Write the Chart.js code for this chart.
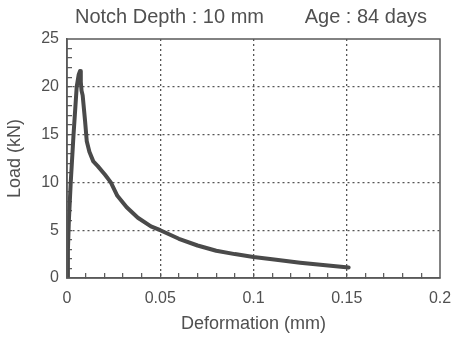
<!DOCTYPE html>
<html>
<head>
<meta charset="utf-8">
<script src="https://cdn.jsdelivr.net/npm/chart.js@4.4.1/dist/chart.umd.min.js"></script>
<style>
  html, body { margin: 0; padding: 0; background: #fff; }
  #wrap { width: 456px; height: 343px; }
</style>
</head>
<body>
<div id="wrap"><canvas id="loadChart"></canvas></div>
<script>
// load vs deformation curve
const deformation = [0, 0.0005, 0.001, 0.002, 0.0035, 0.0052, 0.0063, 0.007, 0.0074, 0.0078, 0.0084,
    0.0097, 0.0106, 0.012, 0.0141, 0.0165, 0.0204, 0.0235, 0.027, 0.032, 0.038, 0.045, 0.05,
    0.06, 0.07, 0.08, 0.09, 0.1, 0.11, 0.125, 0.14, 0.151];
const load = [0, 3, 6, 10, 15, 20, 21.3, 21.65, 20.5, 19.6, 19.1,
    16.4, 14.3, 13.2, 12.2, 11.7, 10.8, 10, 8.6, 7.4, 6.3, 5.4, 5.0,
    4.1, 3.4, 2.85, 2.5, 2.2, 1.95, 1.6, 1.3, 1.1];

const xMajorTicks = [0, 0.05, 0.1, 0.15, 0.2];
const yMajorTicks = [0, 5, 10, 15, 20, 25];
const headerLeft = 'Notch Depth : 10 mm';
const headerRight = 'Age : 84 days';

const ink = '#505050';
const fontFamily = '"Liberation Sans", Arial, Helvetica, sans-serif';

function isMajor(v, list) {
    return list.some(t => Math.abs(t - v) < 1e-9);
}

// header text and the box round the plot
const framePlugin = {
    id: 'frame',
    afterDraw(chart) {
        const { ctx, chartArea: a } = chart;
        ctx.save();
        ctx.setLineDash([]);
        ctx.strokeStyle = '#5a5a5a';
        ctx.lineWidth = 1.5;
        ctx.strokeRect(a.left, a.top, a.right - a.left, a.bottom - a.top);
        ctx.fillStyle = ink;
        ctx.font = '20px ' + fontFamily;
        ctx.textBaseline = 'middle';
        ctx.textAlign = 'left';
        ctx.fillText(headerLeft, 75, 17);
        ctx.textAlign = 'right';
        ctx.fillText(headerRight, 427, 17);
        ctx.restore();
    }
};

const ctxLoad = document.getElementById('loadChart').getContext('2d');
const loadChart = new Chart(ctxLoad, {
    type: 'scatter',
    data: {
        datasets: [{
            label: 'Load (kN)',
            data: deformation.map((d, i) => ({ x: d, y: load[i] })),
            showLine: true,
            borderColor: '#4a4a4a',
            borderWidth: 4,
            pointRadius: 0,
            tension: 0,
            borderJoinStyle: 'round',
            borderCapStyle: 'round'
        }]
    },
    options: {
        responsive: true,
        maintainAspectRatio: false,
        animation: false,
        layout: { padding: { top: 39, right: 0, left: 0, bottom: 0 } },
        plugins: {
            legend: { display: false },
            tooltip: { enabled: false }
        },
        scales: {
            x: {
                type: 'linear',
                min: 0,
                max: 0.2,
                afterFit: s => { s.height = 65; s.paddingRight = 16; s.paddingLeft = 0; },
                afterBuildTicks: s => {
                    s.ticks = [];
                    for (let i = 0; i <= 20; i++) s.ticks.push({ value: i / 100 });
                },
                ticks: {
                    color: ink,
                    font: { size: 16, family: fontFamily },
                    padding: 16,
                    maxRotation: 0,
                    autoSkip: false,
                    callback: v => isMajor(v, xMajorTicks) ? String(Math.round(v * 100) / 100) : ''
                },
                grid: {
                    color: c => (c.tick && isMajor(c.tick.value, xMajorTicks) && c.tick.value > 0 && c.tick.value < 0.2) ? '#555' : 'rgba(0,0,0,0)',
                    lineWidth: 1.3,
                    tickLength: -5,
                    tickColor: c => (c.tick && c.tick.value > 0 && c.tick.value < 0.2) ? '#555' : 'rgba(0,0,0,0)',
                    tickBorderDash: [],
                    tickWidth: 1.2
                },
                border: { display: true, color: '#5a5a5a', width: 1.5, dash: [2, 3] },
                title: {
                    display: true,
                    text: 'Deformation (mm)',
                    color: ink,
                    font: { size: 18, family: fontFamily },
                    padding: { top: 0, bottom: 8 }
                }
            },
            y: {
                type: 'linear',
                min: 0,
                max: 25,
                afterFit: s => { s.width = 67; },
                afterBuildTicks: s => {
                    s.ticks = [];
                    for (let i = 0; i <= 25; i++) s.ticks.push({ value: i });
                },
                ticks: {
                    color: ink,
                    font: { size: 16, family: fontFamily },
                    padding: 13,
                    autoSkip: false,
                    callback: v => isMajor(v, yMajorTicks) ? String(v) : ''
                },
                grid: {
                    color: c => (c.tick && isMajor(c.tick.value, yMajorTicks) && c.tick.value > 0 && c.tick.value < 25) ? '#555' : 'rgba(0,0,0,0)',
                    lineWidth: 1.3,
                    tickLength: -5,
                    tickColor: c => (c.tick && c.tick.value > 0 && c.tick.value < 25) ? '#555' : 'rgba(0,0,0,0)',
                    tickBorderDash: [],
                    tickWidth: 1.2
                },
                border: { display: true, color: '#5a5a5a', width: 1.5, dash: [2, 3] },
                title: {
                    display: true,
                    text: 'Load (kN)',
                    color: ink,
                    font: { size: 18, family: fontFamily },
                    padding: { top: 4, bottom: 0 }
                }
            }
        }
    },
    plugins: [framePlugin]
});
</script>
</body>
</html>
